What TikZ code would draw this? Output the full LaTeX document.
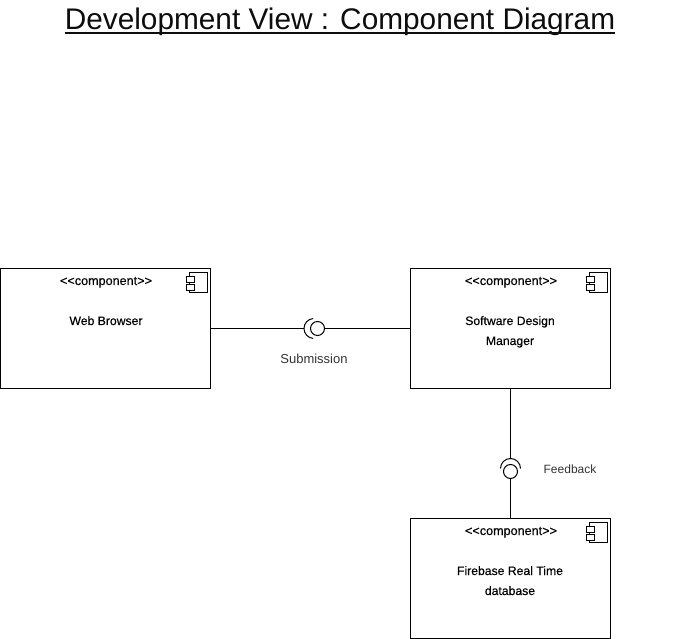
\documentclass[tikz,border=0pt]{standalone}
\usepackage{fontspec}
\setmainfont{Liberation Sans}
\tikzset{
  every node/.style={inner sep=0pt,outer sep=0pt},
  ln/.style={draw=black,line width=1pt},
  box/.style={ln,fill=white,minimum height=120pt,anchor=north west},
  ster/.style={font=\fontsize{12.6}{14}\selectfont\addfontfeature{FakeBold=0.3},text=black,anchor=base},
  nm/.style={font=\fontsize{12.2}{14}\selectfont\addfontfeature{FakeBold=0.3},text=black,anchor=base},
  lbl/.style={text=black!80,anchor=base},
  ball/.style={ln,circle,fill=white,minimum size=14pt},
}
\newcommand{\compicon}[1]{%
  \draw[ln,fill=white] ([shift={(-21,4)}]#1) rectangle ([shift={(-3,24)}]#1);
  \draw[ln,fill=white] ([shift={(-24,8)}]#1) rectangle ([shift={(-16,14)}]#1);
  \draw[ln,fill=white] ([shift={(-24,16)}]#1) rectangle ([shift={(-16,22)}]#1);
}
\begin{document}
\begin{tikzpicture}[x=1pt,y=-1pt]
\useasboundingbox (0,0) rectangle (681,639);
\node[font=\fontsize{29.8}{34}\selectfont,text=black!95,anchor=base] (title) at (340,30) {Development View : Component Diagram};
\draw[line width=1.7pt,draw=black!95] (title.base west) ++(0,3) -- ([yshift=-3pt]title.base east);

\node[box,minimum width=210pt] (web) at (0.5,268.5) {};
\node[box,minimum width=200pt] (sdm) at (410.5,268.5) {};
\node[box,minimum width=200pt] (fb) at (410.5,518.5) {};
\compicon{web.north east}
\compicon{sdm.north east}
\compicon{fb.north east}

\node[ster] (s1) at (106,285) {<{}<component>{}>};
\node[ster] (s2) at (511,285) {<{}<component>{}>};
\node[ster] (s3) at (511,535) {<{}<component>{}>};
\node[nm] (n1) at (106,325) {Web Browser};
\node[nm] (n2a) at (510,325) {Software Design};
\node[nm] (n2b) at (510,345) {Manager};
\node[nm] (n3a) at (510,575) {Firebase Real Time};
\node[nm] (n3b) at (510,595) {database};

\coordinate (sockA) at (304,328.5);
\coordinate (sockB) at (510.5,458.5);
\node[ball] (ballA) at (317.5,328.5) {};
\node[ball] (ballB) at (510.5,471.5) {};
\draw[ln] (web.east) -- (sockA);
\draw[ln] (ballA.east) -- (sdm.west);
\draw[ln] (sdm.south) -- (sockB);
\draw[ln] (ballB.south) -- (fb.north);
\draw[ln] (sockA) arc[start angle=180,end angle=265,radius=10];
\draw[ln] (sockA) arc[start angle=180,end angle=95,radius=10];
\draw[ln] (sockB) arc[start angle=270,end angle=180,radius=10];
\draw[ln] (sockB) arc[start angle=270,end angle=360,radius=10];

\node[lbl,font=\fontsize{13}{15}\selectfont] (sub) at (314,364) {Submission};
\node[lbl,font=\fontsize{12}{14}\selectfont] (fbk) at (570,473) {Feedback};
\end{tikzpicture}
\end{document}
